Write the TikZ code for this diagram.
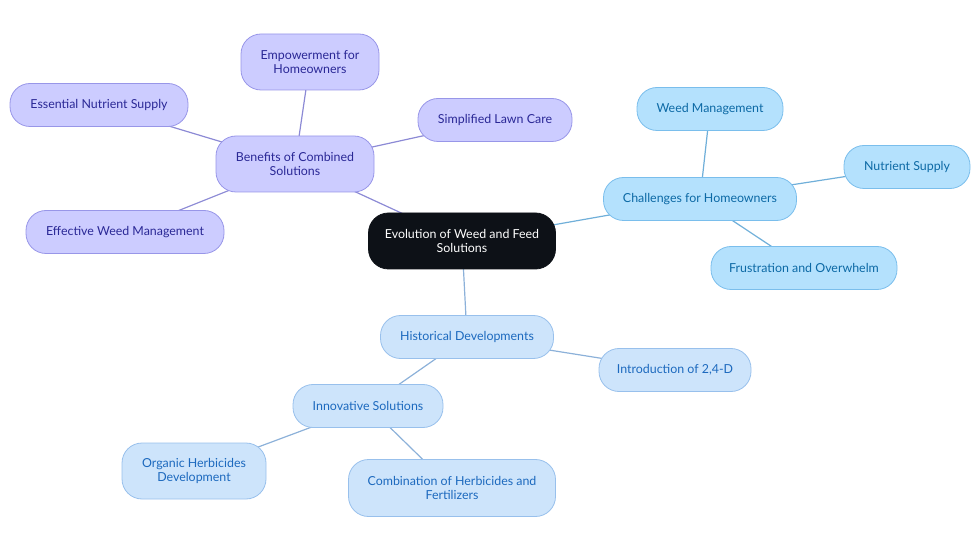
\documentclass[tikz,border=0pt]{standalone}
\usepackage{fontspec}
\setmainfont{Lato}
\usepackage{tikz}
\usetikzlibrary{backgrounds}
\definecolor{rootfill}{RGB}{13, 17, 23}
\definecolor{benefill}{RGB}{204, 204, 255}
\definecolor{benedraw}{RGB}{152, 150, 232}
\definecolor{benetext}{RGB}{42, 40, 150}
\definecolor{chalfill}{RGB}{180, 225, 253}
\definecolor{chaldraw}{RGB}{122, 190, 236}
\definecolor{chaltext}{RGB}{12, 105, 165}
\definecolor{histfill}{RGB}{205, 228, 251}
\definecolor{histdraw}{RGB}{152, 192, 236}
\definecolor{histtext}{RGB}{28, 105, 190}

\tikzset{
	pill/.style={draw, line width=0.8pt, rounded corners=20pt, minimum height=43pt,
		align=center, inner sep=0pt, font=\fontsize{12.4}{14}\selectfont},
	rootbox/.style={pill, fill=rootfill, draw=rootfill, text=white},
	benebox/.style={pill, fill=benefill, draw=benedraw, text=benetext},
	chalbox/.style={pill, fill=chalfill, draw=chaldraw, text=chaltext},
	histbox/.style={pill, fill=histfill, draw=histdraw, text=histtext},
	beneline/.style={draw=benedraw!92!black, line width=1.2pt},
	challine/.style={draw=chaldraw!92!black, line width=1.2pt},
	histline/.style={draw=histdraw!92!black, line width=1.2pt}
}

\begin{document}
\begin{tikzpicture}[x=1pt, y=-1pt]
		\useasboundingbox (0,0) rectangle (980,553);
		
		% centre
		\node[rootbox, minimum width=187pt, minimum height=56pt] (root) at (462,241) {Evolution of Weed and Feed\\Solutions};
		
		% benefits branch
		\node[benebox, minimum width=158pt, minimum height=56pt] (bene) at (295,164) {Benefits of Combined\\Solutions};
		\node[benebox, minimum width=138pt, minimum height=56pt] (empower) at (310,62) {Empowerment for\\Homeowners};
		\node[benebox, minimum width=154pt] (lawn) at (495,120) {Simplified Lawn Care};
		\node[benebox, minimum width=178pt] (nutrient) at (99,105) {Essential Nutrient Supply};
		\node[benebox, minimum width=198pt] (effective) at (125,232) {Effective Weed Management};
		
		% challenges branch
		\node[chalbox, minimum width=193pt] (chal) at (700,199) {Challenges for Homeowners};
		\node[chalbox, minimum width=146pt] (weed) at (710,109) {Weed Management};
		\node[chalbox, minimum width=126pt] (supply) at (907,167) {Nutrient Supply};
		\node[chalbox, minimum width=186pt] (frust) at (804,268) {Frustration and Overwhelm};
		
		% history branch
		\node[histbox, minimum width=173pt] (hist) at (467,337) {Historical Developments};
		\node[histbox, minimum width=152pt] (intro) at (675,370) {Introduction of 2,4-D};
		\node[histbox, minimum width=150pt] (innov) at (368,406) {Innovative Solutions};
		\node[histbox, minimum width=144pt, minimum height=56pt] (organic) at (194,471) {Organic Herbicides\\Development};
		\node[histbox, minimum width=207pt, minimum height=57pt] (combo) at (452,488) {Combination of Herbicides and\\Fertilizers};
		
		\begin{scope}[on background layer]
			\draw[beneline] (root.center) -- (bene.center);
			\draw[beneline] (bene.center) -- (empower.center);
			\draw[beneline] (bene.center) -- (lawn.center);
			\draw[beneline] (bene.center) -- (nutrient.center);
			\draw[beneline] (bene.center) -- (effective.center);
			\draw[challine] (root.center) -- (chal.center);
			\draw[challine] (chal.center) -- (weed.center);
			\draw[challine] (chal.center) -- (supply.center);
			\draw[challine] (chal.center) -- (frust.center);
			\draw[histline] (root.center) -- (hist.center);
			\draw[histline] (hist.center) -- (intro.center);
			\draw[histline] (hist.center) -- (innov.center);
			\draw[histline] (innov.center) -- (organic.center);
			\draw[histline] (innov.center) -- (combo.center);
		\end{scope}
	\end{tikzpicture}
\end{document}
